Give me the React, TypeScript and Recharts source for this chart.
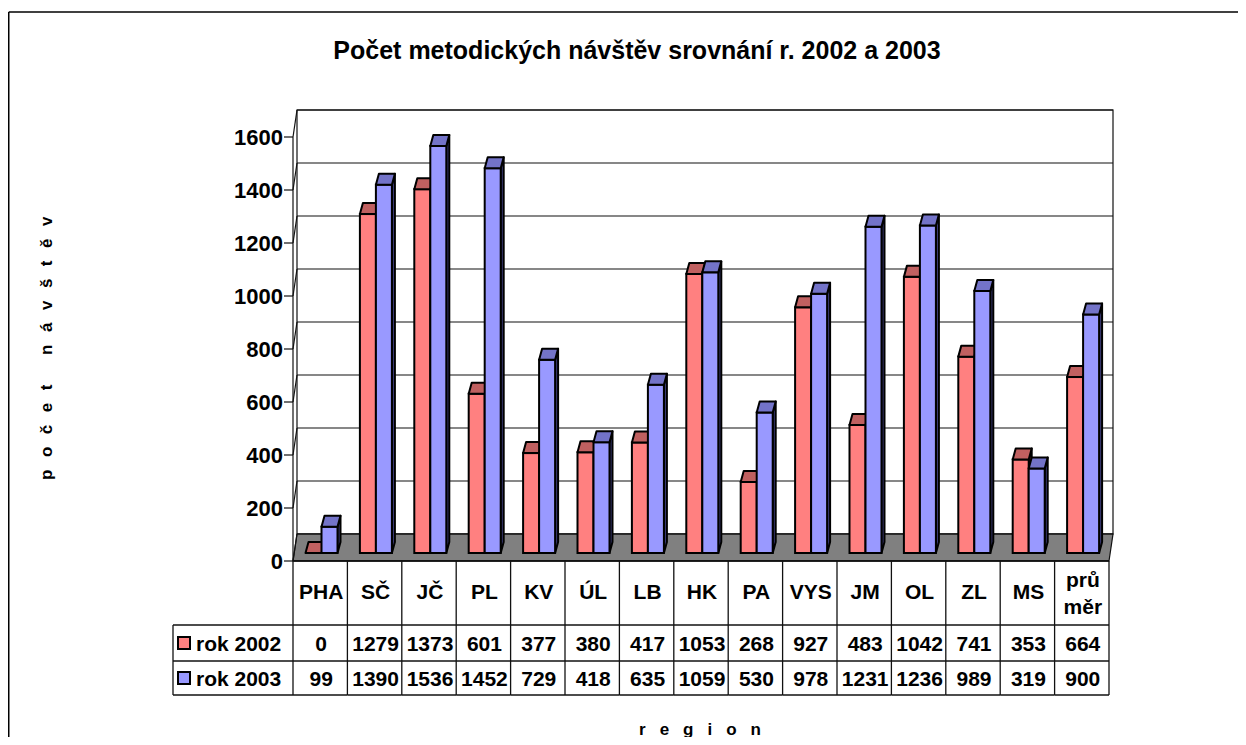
import React from 'react';
import { BarChart, Bar, XAxis, YAxis, CartesianGrid } from 'recharts';

// ---------- data ----------
const categories = ['PHA', 'SČ', 'JČ', 'PL', 'KV', 'ÚL', 'LB', 'HK', 'PA', 'VYS', 'JM', 'OL', 'ZL', 'MS', 'průměr'];
const categoryLines: string[][] = [['PHA'], ['SČ'], ['JČ'], ['PL'], ['KV'], ['ÚL'], ['LB'], ['HK'], ['PA'], ['VYS'], ['JM'], ['OL'], ['ZL'], ['MS'], ['prů', 'měr']];
const rok2002 = [0, 1279, 1373, 601, 377, 380, 417, 1053, 268, 927, 483, 1042, 741, 353, 664];
const rok2003 = [99, 1390, 1536, 1452, 729, 418, 635, 1059, 530, 978, 1231, 1236, 989, 319, 900];
const yTicks = [0, 200, 400, 600, 800, 1000, 1200, 1400, 1600];
const seriesNames = ['rok 2002', 'rok 2003'];
const titleText = 'Počet metodických návštěv srovnání r. 2002 a 2003';
const yTitle = 'počet návštěv';
const xTitle = 'region';

// ---------- layout ----------
const W = 1238;
const H = 737;
const FONT = "'Liberation Sans', Arial, Helvetica, sans-serif";
const PLOT_LEFT = 286.5;
const PLOT_TOP = 121;
const PLOT_W = 816;
const PLOT_H = 424;
const PLOT_BOTTOM = PLOT_TOP + PLOT_H;
const FX = -1.5; // front plane offset
const FY = 8;
const BX = 2.5; // back plane offset
const BY = -19;
const Y_AXIS_W = 60;
const X_AXIS_H = 150;
const BAND = PLOT_W / categories.length;
const FRONT_LEFT = PLOT_LEFT + FX;
const FRONT_RIGHT = FRONT_LEFT + PLOT_W;
const FRONT_BASE = PLOT_BOTTOM + FY;
const BACK_LEFT = PLOT_LEFT + BX;
const BACK_BASE = PLOT_BOTTOM + BY;
const ROW1 = FRONT_BASE + 64;
const ROW2 = ROW1 + 36;
const ROW3 = ROW2 + 34;
const LEG_LEFT = 165;
const LINE = '#111';
const TABLE_FS = 21;

const COLORS = {
  red: { front: '#FF8080', top: '#C06060', side: '#803030' },
  blue: { front: '#9999FF', top: '#7373C8', side: '#404080' },
};

const make3DBar = (c: { front: string; top: string; side: string }) => (props: any) => {
  const { x, y, width, height } = props;
  if (x == null || y == null) return <g />;
  const h = Math.max(0, height || 0);
  const dx = 3;
  const dy = 11;
  const w = width;
  return (
    <g>
      <polygon
        points={`${x + w},${y} ${x + w + dx},${y - dy} ${x + w + dx},${y + h - dy} ${x + w},${y + h}`}
        fill={c.side}
        stroke="#000"
        strokeWidth={2}
        strokeLinejoin="round"
      />
      <rect x={x} y={y} width={w} height={h} fill={c.front} stroke="#000" strokeWidth={2} />
      <polygon
        points={`${x},${y} ${x + w},${y} ${x + w + dx},${y - dy} ${x + dx},${y - dy}`}
        fill={c.top}
        stroke="#000"
        strokeWidth={2}
        strokeLinejoin="round"
      />
    </g>
  );
};

const RedBar = make3DBar(COLORS.red);
const BlueBar = make3DBar(COLORS.blue);

const YTick = (props: any) => {
  const { y, payload } = props;
  const fy = y + FY;
  const by = y + BY;
  return (
    <g>
      <line x1={FRONT_LEFT - 9} y1={fy} x2={FRONT_LEFT} y2={fy} stroke={LINE} strokeWidth={1.2} />
      <line x1={FRONT_LEFT} y1={fy} x2={BACK_LEFT} y2={by} stroke={LINE} strokeWidth={1.2} />
      <text
        x={FRONT_LEFT - 10}
        y={fy}
        dy="0.36em"
        textAnchor="end"
        fontFamily={FONT}
        fontWeight="bold"
        fontSize={22}
        fill="#000"
      >
        {payload.value}
      </text>
    </g>
  );
};

const XTick = (props: any) => {
  const { x, payload } = props;
  let i = typeof props.index === 'number' ? props.index : categories.indexOf(payload.value);
  if (i < 0) i = categories.indexOf(payload.value);
  const cx = x + FX;
  const left = cx - BAND / 2;
  const right = cx + BAND / 2;
  const lines = categoryLines[i] || [String(payload.value)];
  const fs = TABLE_FS;
  return (
    <g>
      {i === 0 && <line x1={left} y1={FRONT_BASE} x2={left} y2={ROW3} stroke={LINE} strokeWidth={1.3} />}
      <line x1={right} y1={FRONT_BASE} x2={right} y2={ROW3} stroke={LINE} strokeWidth={1.3} />
      <line x1={left} y1={ROW1} x2={right} y2={ROW1} stroke={LINE} strokeWidth={1.3} />
      <line x1={left} y1={ROW2} x2={right} y2={ROW2} stroke={LINE} strokeWidth={1.3} />
      <line x1={left} y1={ROW3} x2={right} y2={ROW3} stroke={LINE} strokeWidth={1.3} />
      {lines.length === 1 ? (
        <text x={cx + 1} y={FRONT_BASE + 30} dy="0.36em" textAnchor="middle" fontFamily={FONT} fontWeight="bold" fontSize={fs}>
          {lines[0]}
        </text>
      ) : (
        lines.map((t, k) => (
          <text key={k} x={cx + 1} y={FRONT_BASE + 18 + k * 27} dy="0.36em" textAnchor="middle" fontFamily={FONT} fontWeight="bold" fontSize={fs}>
            {t}
          </text>
        ))
      )}
      <text x={cx + 1} y={(ROW1 + ROW2) / 2} dy="0.36em" textAnchor="middle" fontFamily={FONT} fontWeight="bold" fontSize={fs}>
        {rok2002[i]}
      </text>
      <text x={cx + 1} y={(ROW2 + ROW3) / 2} dy="0.36em" textAnchor="middle" fontFamily={FONT} fontWeight="bold" fontSize={fs}>
        {rok2003[i]}
      </text>
    </g>
  );
};

const gridLine = (props: any) => {
  const { x1, y1, x2, y2, index } = props;
  return (
    <line
      key={`g-${index}-${y1}`}
      x1={x1 + BX}
      y1={y1 + BY}
      x2={x2 + BX}
      y2={y2 + BY}
      stroke="#111"
      strokeWidth={1.2}
    />
  );
};

export default function App() {
  const data = categories.map((c, i) => ({ name: c, r2002: rok2002[i], r2003: rok2003[i] }));
  const backTop = PLOT_TOP + BY;
  return (
    <div style={{ position: 'relative', width: W, height: H, marginBottom: -8, overflow: 'hidden', fontFamily: FONT }}>
      <svg style={{ position: 'absolute', left: 0, top: 0 }} width={W} height={H}>
        {/* outer chart border (left and top visible) */}
        <line x1={0.75} y1={4} x2={W} y2={4} stroke="#000" strokeWidth={1.5} />
        <line x1={0.75} y1={4} x2={0.75} y2={H} stroke="#000" strokeWidth={1.5} />
        {/* back wall */}
        <rect x={BACK_LEFT} y={backTop} width={PLOT_W} height={PLOT_H} fill="#fff" stroke="#111" strokeWidth={1.2} />
        {/* left wall front edge */}
        <line x1={FRONT_LEFT} y1={PLOT_TOP + FY} x2={FRONT_LEFT} y2={FRONT_BASE} stroke="#111" strokeWidth={1.2} />
        {/* floor */}
        <polygon
          points={`${FRONT_LEFT},${FRONT_BASE} ${FRONT_RIGHT},${FRONT_BASE} ${FRONT_RIGHT + BX - FX},${BACK_BASE} ${BACK_LEFT},${BACK_BASE}`}
          fill="#808080"
          stroke="#111"
          strokeWidth={1.2}
        />
        <line x1={FRONT_LEFT} y1={FRONT_BASE} x2={FRONT_RIGHT} y2={FRONT_BASE} stroke="#000" strokeWidth={1.5} />
        {/* legend cells */}
        <line x1={LEG_LEFT} y1={ROW1} x2={FRONT_LEFT} y2={ROW1} stroke={LINE} strokeWidth={1.3} />
        <line x1={LEG_LEFT} y1={ROW2} x2={FRONT_LEFT} y2={ROW2} stroke={LINE} strokeWidth={1.3} />
        <line x1={LEG_LEFT} y1={ROW3} x2={FRONT_LEFT} y2={ROW3} stroke={LINE} strokeWidth={1.3} />
        <line x1={LEG_LEFT} y1={ROW1} x2={LEG_LEFT} y2={ROW3} stroke={LINE} strokeWidth={1.3} />
        {seriesNames.map((name, k) => {
          const cy = k === 0 ? (ROW1 + ROW2) / 2 : (ROW2 + ROW3) / 2;
          const c = k === 0 ? COLORS.red.front : COLORS.blue.front;
          return (
            <g key={name}>
              <rect x={LEG_LEFT + 5} y={cy - 6} width={12} height={12} fill={c} stroke="#000" strokeWidth={2} />
              <text x={LEG_LEFT + 23} y={cy} dy="0.36em" fontFamily={FONT} fontWeight="bold" fontSize={TABLE_FS}>
                {name}
              </text>
            </g>
          );
        })}
        <text x={629} y={42} dy="0.36em" textAnchor="middle" fontFamily={FONT} fontWeight="bold" fontSize={25}>
          {titleText}
        </text>
        <text
          x={0}
          y={0}
          transform={`translate(38, 334) rotate(-90)`}
          textAnchor="middle"
          dy="0.36em"
          fontFamily={FONT}
          fontWeight="bold"
          fontSize={17}
          letterSpacing={12.5}
        >
          {yTitle}
        </text>
        <text x={699} y={721} dy="0.36em" textAnchor="middle" fontFamily={FONT} fontWeight="bold" fontSize={17} letterSpacing={14}>
          {xTitle}
        </text>
      </svg>
      <div style={{ position: 'absolute', left: 0, top: 0 }}>
        <BarChart
          width={W}
          height={H}
          data={data}
          margin={{ top: PLOT_TOP, right: W - PLOT_LEFT - PLOT_W, bottom: H - PLOT_BOTTOM - X_AXIS_H, left: PLOT_LEFT - Y_AXIS_W }}
          barGap={0}
          barSize={16}
        >
          <CartesianGrid vertical={false} horizontal={gridLine} />
          <XAxis dataKey="name" height={X_AXIS_H} interval={0} tickLine={false} axisLine={false} tick={XTick} />
          <YAxis domain={[0, 1600]} ticks={yTicks} width={Y_AXIS_W} tickLine={false} axisLine={false} tick={YTick} interval={0} />
          <Bar dataKey="r2002" shape={RedBar} isAnimationActive={false} />
          <Bar dataKey="r2003" shape={BlueBar} isAnimationActive={false} />
        </BarChart>
      </div>
    </div>
  );
}
